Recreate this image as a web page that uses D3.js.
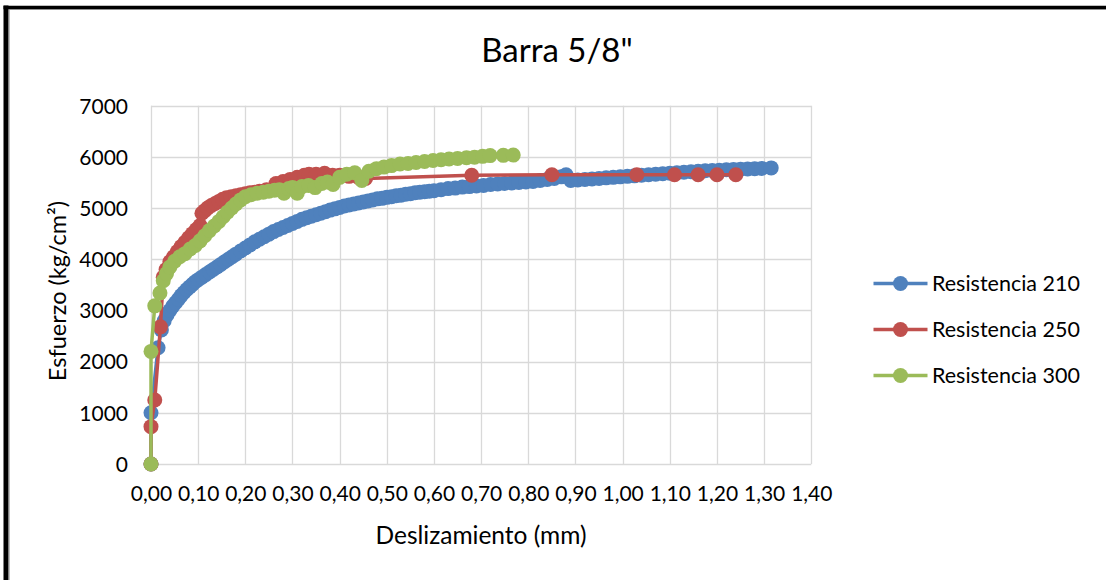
<!DOCTYPE html>
<html>
<head>
<meta charset="utf-8">
<script src="https://cdn.jsdelivr.net/npm/d3@7/dist/d3.min.js"></script>
<style>
  html, body { margin: 0; padding: 0; background: #fff; }
  svg { display: block; }
  text { font-family: Lato, "Open Sans", sans-serif; fill: #000; }
</style>
</head>
<body>
<svg id="chart" width="1106" height="580"></svg>
<script>
// Bond-slip curves for the 5/8" bar, three concrete strengths
const title = 'Barra 5/8"';
const xTitle = "Deslizamiento (mm)";
const yTitle = "Esfuerzo (kg/cm²)";
const seriesNames = ["Resistencia 210", "Resistencia 250", "Resistencia 300"];
const seriesColors = ["#4F81BD", "#C0504D", "#9BBB59"];
const xTicks = [0, 0.1, 0.2, 0.3, 0.4, 0.5, 0.6, 0.7, 0.8, 0.9, 1.0, 1.1, 1.2, 1.3, 1.4];
const yTicks = [0, 1000, 2000, 3000, 4000, 5000, 6000, 7000];

// [slip (mm), stress (kg/cm²)]
const res210 = [
  [0, 0], [0.000, 1000], [0.015, 2270], [0.022, 2620], [0.028, 2800], [0.034, 2910],
  [0.040, 3000], [0.046, 3080], [0.052, 3150], [0.058, 3220], [0.064, 3290], [0.070, 3350],
  [0.076, 3410], [0.082, 3460], [0.088, 3510], [0.094, 3560], [0.100, 3600], [0.108, 3650],
  [0.116, 3700], [0.124, 3750], [0.132, 3800], [0.140, 3850], [0.148, 3900], [0.156, 3950],
  [0.164, 4000], [0.172, 4050], [0.180, 4100], [0.190, 4160], [0.200, 4220], [0.210, 4280],
  [0.220, 4340], [0.230, 4390], [0.240, 4440], [0.250, 4490], [0.260, 4540], [0.270, 4580],
  [0.280, 4620], [0.290, 4660], [0.300, 4700], [0.310, 4740], [0.320, 4780], [0.330, 4810],
  [0.340, 4840], [0.350, 4870], [0.360, 4900], [0.370, 4930], [0.380, 4960], [0.390, 4985],
  [0.400, 5010], [0.410, 5040], [0.420, 5060], [0.430, 5080], [0.440, 5100], [0.450, 5120],
  [0.460, 5140], [0.470, 5160], [0.480, 5180], [0.490, 5190], [0.500, 5210], [0.510, 5220],
  [0.520, 5240], [0.530, 5250], [0.540, 5270], [0.550, 5280], [0.560, 5300], [0.570, 5310],
  [0.580, 5320], [0.590, 5330], [0.600, 5340], [0.615, 5360], [0.630, 5380], [0.645, 5390],
  [0.660, 5410], [0.675, 5420], [0.690, 5430], [0.705, 5440], [0.720, 5460], [0.735, 5470],
  [0.750, 5480], [0.765, 5490], [0.780, 5500], [0.795, 5510], [0.810, 5520], [0.825, 5540],
  [0.840, 5560], [0.855, 5580], [0.870, 5610], [0.880, 5650], [0.890, 5540], [0.905, 5550],
  [0.920, 5560], [0.935, 5570], [0.950, 5580], [0.965, 5590], [0.980, 5600], [0.995, 5610],
  [1.010, 5620], [1.025, 5630], [1.040, 5640], [1.055, 5650], [1.070, 5660], [1.085, 5670],
  [1.100, 5680], [1.115, 5690], [1.130, 5700], [1.145, 5710], [1.160, 5720], [1.175, 5730],
  [1.190, 5735], [1.205, 5740], [1.220, 5750], [1.235, 5755], [1.250, 5760], [1.265, 5765],
  [1.280, 5770], [1.295, 5775], [1.315, 5785]
];

const res250 = [
  [0, 0], [0.000, 730], [0.008, 1250], [0.020, 2680], [0.026, 3650], [0.032, 3800],
  [0.040, 3950], [0.048, 4050], [0.056, 4150], [0.064, 4250], [0.072, 4330], [0.080, 4420],
  [0.088, 4500], [0.096, 4580], [0.104, 4660], [0.108, 4900], [0.114, 4950], [0.120, 5000],
  [0.128, 5050], [0.136, 5090], [0.144, 5130], [0.152, 5170], [0.160, 5200], [0.170, 5220],
  [0.180, 5240], [0.190, 5260], [0.200, 5280], [0.210, 5300], [0.220, 5310], [0.230, 5330],
  [0.245, 5360], [0.265, 5480], [0.280, 5520], [0.295, 5560], [0.310, 5600], [0.325, 5640],
  [0.335, 5660], [0.350, 5660], [0.368, 5680], [0.385, 5640], [0.400, 5640], [0.420, 5620],
  [0.440, 5600], [0.455, 5580], [0.680, 5640], [0.850, 5650], [1.030, 5650], [1.110, 5650],
  [1.160, 5650], [1.200, 5650], [1.240, 5650]
];

const res300 = [
  [0, 0], [0.000, 2200], [0.008, 3090], [0.019, 3340], [0.026, 3580], [0.033, 3720],
  [0.040, 3850], [0.050, 3960], [0.061, 4050], [0.072, 4110], [0.083, 4200], [0.094, 4270],
  [0.104, 4360], [0.114, 4460], [0.124, 4560], [0.134, 4650], [0.144, 4740], [0.153, 4830],
  [0.162, 4920], [0.171, 5000], [0.180, 5080], [0.190, 5160], [0.200, 5220], [0.212, 5260],
  [0.225, 5290], [0.238, 5310], [0.250, 5330], [0.262, 5350], [0.272, 5360], [0.282, 5290],
  [0.292, 5380], [0.300, 5400], [0.310, 5290], [0.320, 5420], [0.334, 5440], [0.348, 5400],
  [0.362, 5480], [0.374, 5510], [0.386, 5460], [0.400, 5600], [0.415, 5660], [0.432, 5690],
  [0.447, 5540], [0.462, 5720], [0.478, 5770], [0.494, 5800], [0.510, 5830], [0.528, 5860],
  [0.545, 5870], [0.562, 5890], [0.580, 5910], [0.598, 5930], [0.615, 5945], [0.632, 5960],
  [0.650, 5970], [0.669, 5985], [0.686, 5995], [0.703, 6010], [0.719, 6025], [0.747, 6030],
  [0.768, 6035]
];

const allSeries = [res210, res250, res300];

const svg = d3.select("#chart");
const W = 1106, H = 580;

svg.append("rect").attr("width", W).attr("height", H).attr("fill", "#fff");

// frame of the chart area (left and top edges)
svg.append("line").attr("x1", 9.5).attr("x2", 9.5).attr("y1", 9).attr("y2", H)
  .attr("stroke", "#bfbfbf").attr("stroke-width", 1);
svg.append("line").attr("x1", 9).attr("x2", W).attr("y1", 9.5).attr("y2", 9.5)
  .attr("stroke", "#bfbfbf").attr("stroke-width", 1);
svg.append("line").attr("x1", 6).attr("x2", 6).attr("y1", 5.5).attr("y2", H)
  .attr("stroke", "#000").attr("stroke-width", 5);
svg.append("line").attr("x1", 3.5).attr("x2", W).attr("y1", 7.5).attr("y2", 7.5)
  .attr("stroke", "#000").attr("stroke-width", 3.5);

const plot = { left: 151, right: 811.3, top: 105.7, bottom: 464 };

const x = d3.scaleLinear().domain([0, 1.4]).range([plot.left, plot.right]);
const y = d3.scaleLinear().domain([0, 7000]).range([plot.bottom, plot.top]);

// gridlines
const grid = svg.append("g");
grid.selectAll("line.h").data(yTicks).join("line")
  .attr("x1", plot.left).attr("x2", plot.right)
  .attr("y1", d => Math.round(y(d)) + 0.5).attr("y2", d => Math.round(y(d)) + 0.5)
  .attr("stroke", "#d9d9d9").attr("stroke-width", 1.3);
grid.selectAll("line.v").data(xTicks).join("line")
  .attr("y1", plot.top).attr("y2", plot.bottom)
  .attr("x1", d => Math.round(x(d)) + 0.5).attr("x2", d => Math.round(x(d)) + 0.5)
  .attr("stroke", "#d9d9d9").attr("stroke-width", 1.3);

const fmtX = d => d3.format(".2f")(d).replace(".", ",");

// axes (labels only; lines come from the grid)
const xAxis = d3.axisBottom(x).tickValues(xTicks).tickFormat(fmtX).tickSize(0).tickPadding(0);
const gx = svg.append("g").attr("transform", `translate(0,${plot.bottom})`).call(xAxis);
gx.select(".domain").remove();
gx.selectAll("text").attr("y", 30).attr("dy", "0.35em")
  .style("font-size", "21px").style("fill", "#000");

const yAxis = d3.axisLeft(y).tickValues(yTicks).tickFormat(d3.format("d")).tickSize(0).tickPadding(0);
const gy = svg.append("g").attr("transform", `translate(128,0)`).call(yAxis);
gy.select(".domain").remove();
gy.selectAll("text").attr("x", 0).attr("dy", "0.35em")
  .style("font-size", "21px").style("fill", "#000");

// titles
svg.append("text").attr("x", 557).attr("y", 50).attr("dy", "0.35em")
  .attr("text-anchor", "middle").style("font-size", "33px").text(title);
svg.append("text").attr("x", 481).attr("y", 535).attr("dy", "0.35em")
  .attr("text-anchor", "middle").style("font-size", "24.5px").text(xTitle);
svg.append("text").attr("transform", "translate(58,291) rotate(-90)").attr("dy", "0.35em")
  .attr("text-anchor", "middle").style("font-size", "23.5px").text(yTitle);

// series: line then markers, drawn in order
const line = d3.line().x(d => x(d[0])).y(d => y(d[1]));
allSeries.forEach((s, i) => {
  const g = svg.append("g");
  g.append("path").datum(s).attr("d", line).attr("fill", "none")
    .attr("stroke", seriesColors[i]).attr("stroke-width", 3.5).attr("stroke-linejoin", "round");
  g.selectAll("circle").data(s).join("circle")
    .attr("cx", d => x(d[0])).attr("cy", d => y(d[1])).attr("r", 7.5)
    .attr("fill", seriesColors[i]);
});

// legend
const legendY = [283.5, 329.5, 375.5];
const lg = svg.append("g");
seriesNames.forEach((name, i) => {
  lg.append("line").attr("x1", 873.5).attr("x2", 927.5).attr("y1", legendY[i]).attr("y2", legendY[i])
    .attr("stroke", seriesColors[i]).attr("stroke-width", 3.5);
  lg.append("circle").attr("cx", 900.5).attr("cy", legendY[i]).attr("r", 7.5).attr("fill", seriesColors[i]);
  lg.append("text").attr("x", 932).attr("y", legendY[i]).attr("dy", "0.35em")
    .style("font-size", "21.5px").text(name);
});
</script>
</body>
</html>
